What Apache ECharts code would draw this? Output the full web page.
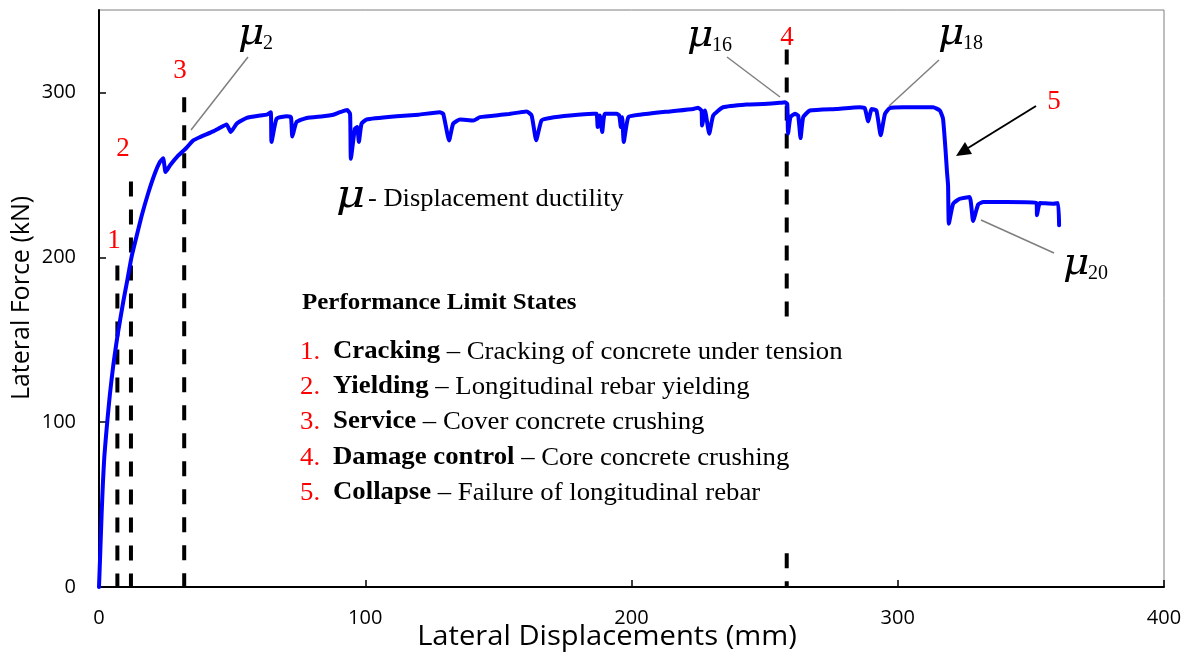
<!DOCTYPE html>
<html>
<head>
<meta charset="utf-8">
<script src="https://cdn.jsdelivr.net/npm/echarts@6/dist/echarts.min.js"></script>
<style>
html,body{margin:0;padding:0;background:#fff;}
#chart{width:1191px;height:656px;}
</style>
</head>
<body>
<div id="chart"></div>
<script>
// ---- data ----
const dispMM = [0,0.5,1.0,1.5,2.0,2.6,3.2,4.1,5.4,7.0,9.0,10.5,12.2,14.0,16.0,18.5,21.0,22.9,24.1,25.0,26.7,29.8,32.6,35.4,37.9,42.9,44.8,47.9,49.5,51.7,55.5,60.5,63,64.5,64.8,66.7,70.5,72.1,72.6,74.2,78,84.2,88,90.5,93.2,94.3,94.6,96.1,97,97.6,98.6,100.5,111.8,120,128,129.3,131.5,133,135.6,140.6,143.1,153.1,160.6,162.5,164.2,166.2,169.4,176.9,185.6,186.9,187.3,188.1,189,190,194.4,195.4,196,196.5,197.1,198.8,203.2,214.4,223.2,225,226.3,226.5,227.6,229.2,230.7,234.4,243.2,249.5,255.7,257.6,258.5,258.8,259.7,261.4,262.6,263.5,264.5,267,277,285.8,287.6,288.9,290.2,292,293.6,295.2,297,302,313.3,315.8,317,318,318.5,318.9,319.2,320.8,323.3,327,328.3,330.2,332.1,340.9,352.1,352.3,353.4,358.4,360.2,360.6];
const forceKN = [0,22,45,64,79,91,102,117,135,153,172,185,200,212,225,239,251,258,260,251.7,255.8,261.8,266,270.9,272.9,276.4,278,280.6,276,281,284.6,286,286.5,288,270,284,285.6,285,273.3,282,284.5,285.5,286.5,288,289.3,287,259.8,278,279,270,281,283.6,285.5,286.5,288,287,270.9,281,283.6,283,285,286.7,288.5,286,271,283,284.5,286,287,287,279,286,276,287,287,286,279,285,270,285,286.5,288.5,290,290.7,289,280,289,275,286,291,292.7,293,293.7,294,293,275,285,287,286,272.3,285,289,290,291,290.5,282.4,290,289,274,287,290.5,291,291,289,284,263.8,251.7,243.6,220.4,232.5,235.5,236.5,222,232,233.5,233.5,232.9,225.5,232.9,232.5,232.9,219.4];
// performance limit states (dashed markers): displacement and top of the marker line
const limitDisp = [6.9, 12.0, 32.0, 258.3];
const limitTop = [195, 246, 297, 326];
const limit4Gap = [160, 20.5];   // marker 4 is interrupted between these forces
const xTickValues = [0, 100, 200, 300, 400];
const yTickValues = [0, 100, 200, 300];
const limitNames = ['Cracking', 'Yielding', 'Service', 'Damage control', 'Collapse'];
const limitDescr = ['Cracking of concrete under tension', 'Longitudinal rebar yielding', 'Cover concrete crushing', 'Core concrete crushing', 'Failure of longitudinal rebar'];

// ---- build ----
const curve = dispMM.map((x, i) => [x, forceKN[i]]);
const dashStyle = {color: '#000', width: 4, type: [15, 13], cap: 'butt'};
const limitSeries = [];
limitDisp.forEach((x, i) => {
  let segs;
  if (i === 3) segs = [[[x, limitTop[i]], [x, limit4Gap[0]]], [[x, limit4Gap[1]], [x, 0]]];
  else segs = [[[x, limitTop[i]], [x, 0]]];
  segs.forEach(d => limitSeries.push({
    type: 'line', data: d, symbol: 'none', silent: true, animation: false,
    lineStyle: dashStyle, z: 2
  }));
});

const chart = echarts.init(document.getElementById('chart'), null, {renderer: 'canvas'});
const serif = '"Liberation Serif", "Times New Roman", serif';
const muFont = 'italic 37px "DejaVu Serif", serif';
const sans = '"Open Sans", "Liberation Sans", sans-serif';
const gray = '#7f7f7f';

function txt(x, y, text, font, fill, align, valign, extra) {
  return Object.assign({type: 'text', x: x, y: y, silent: true, z: 10,
    style: {text: text, font: font, fill: fill || '#000', align: align || 'left', verticalAlign: valign || 'middle',
      textAlign: align || 'left', textVerticalAlign: valign || 'middle'}}, extra || {});
}
function seg(x1, y1, x2, y2, color, w) {
  return {type: 'line', silent: true, z: 9, shape: {x1, y1, x2, y2}, style: {stroke: color, lineWidth: w}};
}

const graphics = [];
// axis titles
graphics.push(txt(607, 637, 'Lateral Displacements (mm)', '27px ' + sans, '#000', 'center', 'middle', {scaleX: 1.08}));
graphics.push(txt(22, 298, 'Lateral Force (kN)', '25px ' + sans, '#000', 'center', 'middle', {rotation: Math.PI / 2}));
// red limit numbers
[[114, 241], [123, 149], [180, 71], [787, 38], [1054, 102]].forEach((p, i) => {
  graphics.push(txt(p[0], p[1], String(i + 1), '27px ' + serif, '#ff0000', 'center', 'middle'));
});
// mu labels
function mu(x, y, sub) {
  graphics.push(txt(x, y, 'μ', muFont, '#000', 'left', 'middle', {scaleX: 1.1}));
  graphics.push(txt(x + 25, y + 10, sub, '20px ' + serif, '#000', 'left', 'middle'));
}
mu(238, 34, '2');
mu(687, 36, '16');
mu(938, 34, '18');
mu(1063, 264, '20');
graphics.push(seg(248, 57, 191, 130, gray, 1.5));
graphics.push(seg(727, 57, 780, 97, gray, 1.5));
graphics.push(seg(939, 60, 889, 106, gray, 1.5));
graphics.push(seg(1054, 253, 981, 220, gray, 1.5));
// arrow to collapse point
graphics.push(seg(1036, 106, 968, 148, '#000', 2));
graphics.push({type: 'polygon', silent: true, z: 9, shape: {points: [[956, 156], [972, 154], [965, 142]]}, style: {fill: '#000'}});
// mu description
graphics.push(txt(336, 197, 'μ', 'italic 39px "DejaVu Serif", serif', '#000', 'left', 'middle', {scaleX: 1.15}));
graphics.push(txt(368, 200, '- Displacement ductility', '24.5px ' + serif, '#000', 'left', 'middle', {scaleX: 1.08}));
// performance limit states box
graphics.push(txt(302, 303, 'Performance Limit States', 'bold 24px ' + serif, '#000', 'left', 'middle', {scaleX: 1.04}));
const rowY = [352, 387, 422, 458, 493];
limitNames.forEach((n, i) => {
  graphics.push(txt(300, rowY[i], (i + 1) + '.', '25px ' + serif, '#ff0000', 'left', 'middle', {scaleX: 1.07}));
  graphics.push({type: 'text', x: 333, y: rowY[i], silent: true, z: 10, scaleX: 1.07,
    style: {text: '{b|' + n + '}{r| – ' + limitDescr[i] + '}', align: 'left', verticalAlign: 'middle',
      textAlign: 'left', textVerticalAlign: 'middle',
      rich: {b: {fontFamily: serif, fontWeight: 'bold', fontSize: 25, fill: '#000', color: '#000'},
             r: {fontFamily: serif, fontSize: 25, fill: '#000', color: '#000'}}}});
});

chart.setOption({
  animation: false,
  backgroundColor: '#fff',
  grid: {left: 99, top: 10, right: 27, bottom: 69, show: true, borderColor: gray, borderWidth: 1, containLabel: false},
  xAxis: {
    type: 'value', min: 0, max: 400, interval: 100,
    axisLine: {show: true, onZero: false, lineStyle: {color: '#000', width: 2}},
    axisTick: {show: true, inside: true, length: 7, lineStyle: {color: '#000', width: 1.5}},
    axisLabel: {color: '#000', fontSize: 20, fontFamily: sans, margin: 21, customValues: xTickValues},
    splitLine: {show: false}
  },
  yAxis: {
    type: 'value', min: 0, max: 350, interval: 100,
    axisLine: {show: true, onZero: false, lineStyle: {color: '#000', width: 2}},
    axisTick: {show: true, inside: true, length: 7, lineStyle: {color: '#000', width: 1.5}, customValues: yTickValues},
    axisLabel: {color: '#000', fontSize: 20, fontFamily: sans, margin: 23, customValues: yTickValues},
    splitLine: {show: false}
  },
  series: limitSeries.concat([{
    type: 'line', data: curve, symbol: 'none', silent: true, z: 3,
    smooth: 0.15,
    lineStyle: {color: '#0000ff', width: 4, join: 'round', cap: 'round'}
  }]),
  graphic: graphics
});
</script>
</body>
</html>
